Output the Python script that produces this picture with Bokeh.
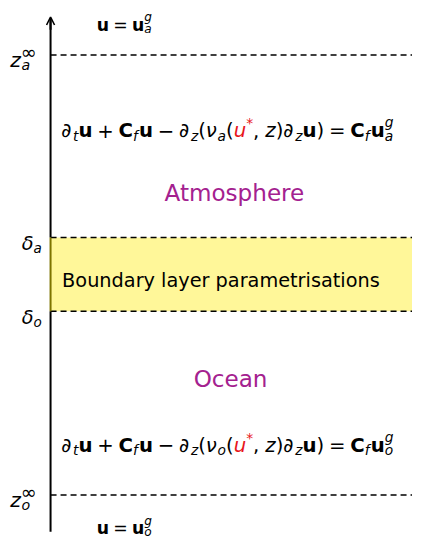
from bokeh.plotting import figure
from bokeh.models import Range1d, Arrow, OpenHead, ColumnDataSource
from bokeh.core.properties import value
from bokeh.embed import file_html
from bokeh.resources import INLINE

# ---- diagram data (vertical coordinate: nominal depth units, top = 0) ----
level_names = ["z_a_inf", "delta_a", "delta_o", "z_o_inf"]
level_y = [56, 244, 320, 509]
box_top = [244]
box_bottom = [320]
region_labels = ["Atmosphere", "Ocean"]
region_label_y = [198, 390]
box_text = ["Boundary layer parametrisations"]

FONT = "DejaVu Sans"
PURPLE = "#a4218f"
YELLOW = "#fff799"
RED = "#e8151b"

PW, PH = 412, 541
XMAX, YMAX = 428, 557
SCALE = PW / XMAX

p = figure(width=PW, height=PH, output_backend="svg", toolbar_location=None,
           x_range=Range1d(0, XMAX), y_range=Range1d(YMAX, 0), min_border=0)
p.axis.visible = False
p.grid.visible = False
p.outline_line_color = None
p.background_fill_color = "white"

# boundary layer box
p.quad(left=[52], right=[XMAX + 5], top=box_top, bottom=box_bottom,
       fill_color=YELLOW, line_color=None)

# dashed levels
for y in level_y:
    p.line(x=[52, XMAX + 5], y=[y, y], line_color="black", line_width=1.5, line_dash="6 4")

# vertical axis with arrow
p.segment(x0=[52], y0=[547], x1=[52], y1=[box_bottom[0]], line_color="black", line_width=2)
p.segment(x0=[52], y0=[box_top[0]], x1=[52], y1=[18], line_color="black", line_width=2)
p.segment(x0=[52], y0=[box_top[0]], x1=[52], y1=[box_bottom[0]], line_color="#7d7400", line_width=2)
p.add_layout(Arrow(end=OpenHead(size=8, line_width=1.6), x_start=52, y_start=30,
                   x_end=52, y_end=17, line_width=2, line_color="black"))

# ---- rich text helper ----
W = {' ': .318, '(': .390, ')': .390, '*': .500, '+': .838, ',': .318, '=': .838,
     '−': .838, 'a': .613, 'f': .352, 'g': .635, 'o': .612, 't': .392, 'u': .634,
     'z': .525, 'ν': .592, '∂': .60, 'δ': .612, '∞': .838, 'C': .698}
WB = {'u': .712, 'C': .734, '=': .838}

groups = {}

def add(x, y, txt, size, style, color):
    key = (round(size * SCALE, 1), style, color)
    g = groups.setdefault(key, dict(x=[], y=[], text=[]))
    g["x"].append(x); g["y"].append(y); g["text"].append(txt)

def width(txt, bold):
    return sum((WB.get(c, W.get(c, .6)) if bold else W.get(c, .6)) for c in txt)

def rich(items, x, y, s, color="black"):
    for it in items:
        txt, kind = it[0], it[1]
        col = it[2] if len(it) > 2 else color
        if kind == "r":
            add(x, y, txt, s, "normal", col); x += width(txt, False) * s
        elif kind == "i":
            add(x, y, txt, s, "italic", col); x += width(txt, False) * s
        elif kind == "b":
            add(x, y, txt, s, "bold", col); x += width(txt, True) * s
        elif kind == "op":
            x += 0.24 * s
            add(x, y, txt, s, "normal", col); x += width(txt, False) * s + 0.24 * s
        elif kind == "gap":
            x += txt * s
        elif kind == "sub":
            add(x, y + 0.25 * s, txt, 0.7 * s, "italic", col); x += width(txt, False) * 0.7 * s
        elif kind == "sup":
            add(x, y - 0.42 * s, txt, 0.7 * s, "italic", col); x += width(txt, False) * 0.7 * s
        elif kind == "supr":
            add(x, y - 0.38 * s, txt, 0.7 * s, "normal", col); x += width(txt, False) * 0.7 * s
        elif kind == "subsup":
            sb, sp = txt
            add(x, y + 0.25 * s, sb, 0.7 * s, "italic", col)
            add(x, y - 0.42 * s, sp, 0.7 * s, "italic", col)
            x += max(width(sb, False), width(sp, False)) * 0.7 * s
        elif kind == "subinf":
            sb, sp = txt
            add(x + 0.04 * s, y + 0.28 * s, sb, 0.7 * s, "italic", col)
            add(x, y - 0.36 * s, sp, 0.95 * s, "normal", col)
            x += width(sp, False) * 0.95 * s
    return x

def equation(layer):
    return [("∂", "r"), ("t", "sub"), ("u", "b"), ("+", "op"), ("C", "b"), ("f", "sub"),
            (0.06, "gap"), ("u", "b"), ("−", "op"), ("∂", "r"), ("z", "sub"), ("(", "r"),
            ("ν", "i"), (layer, "sub"), ("(", "r"), ("u", "i", RED), ("*", "supr", RED),
            (",", "r"), (0.3, "gap"), ("z", "i"), (")", "r"), ("∂", "r"), ("z", "sub"),
            ("u", "b"), (")", "r"), ("=", "op"), ("C", "b"), ("f", "sub"), (0.06, "gap"),
            ("u", "b"), ((layer, "g"), "subsup")]

rich(equation("a"), 63, 134, 20.5)
rich(equation("o"), 63, 458, 20.5)
rich([("u", "b"), ("=", "op"), ("u", "b"), (("a", "g"), "subsup")], 100, 25, 18)
rich([("u", "b"), ("=", "op"), ("u", "b"), (("o", "g"), "subsup")], 100, 543, 18)

# level labels
rich([("z", "i"), (("a", "∞"), "subinf")], 10, 61, 21)
rich([("δ", "i"), ("a", "sub")], 22, 250, 20)
rich([("δ", "i"), ("o", "sub")], 22, 326, 20)
rich([("z", "i"), (("o", "∞"), "subinf")], 10, 514, 21)

for (size, style, color), g in groups.items():
    p.text(x="x", y="y", text="text", source=ColumnDataSource(g),
           text_font=value(FONT), text_font_size=f"{size:.1f}px",
           text_font_style=style, text_color=color,
           text_baseline="alphabetic", text_align="left")

# region titles
p.text(x=[243, 239], y=region_label_y, text=region_labels, text_font=value(FONT),
       text_font_size=f"{24 * SCALE:.1f}px", text_color=PURPLE, text_align="center",
       text_baseline="alphabetic")
p.text(x=[64], y=[288], text=box_text, text_font=value(FONT),
       text_font_size=f"{20 * SCALE:.1f}px",
       text_color="black", text_align="left", text_baseline="alphabetic")

open("out.html", "w").write(file_html(p, INLINE))
